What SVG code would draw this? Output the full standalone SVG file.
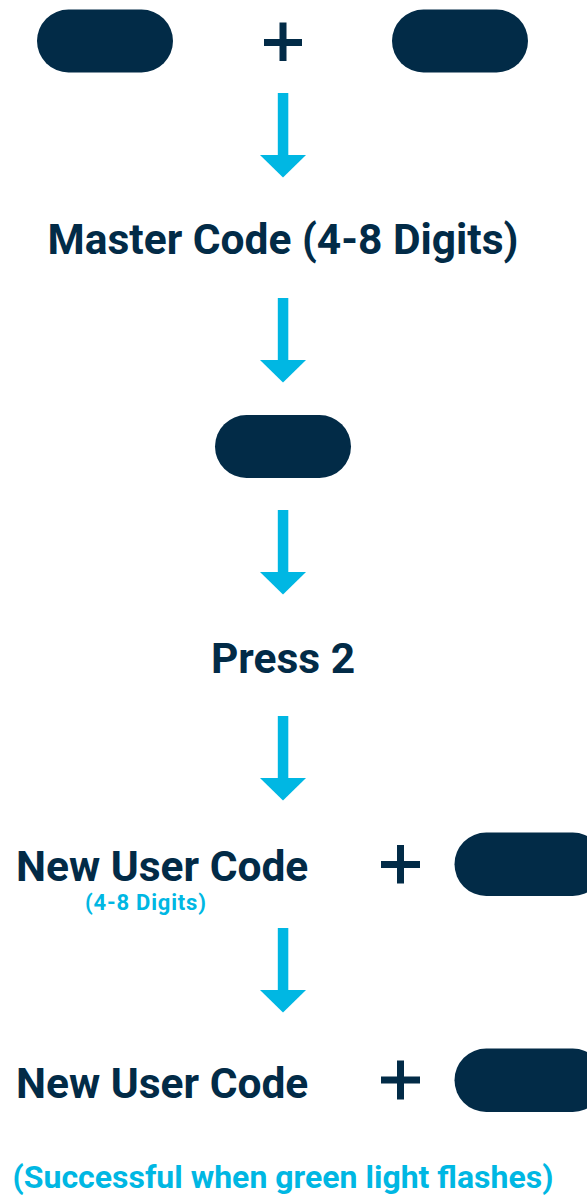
<svg xmlns="http://www.w3.org/2000/svg" width="587" height="1195" viewBox="0 0 587 1195">
  <defs>
    <style>
      .pill { fill: #022b47; }
      .plus { stroke: #022b47; stroke-width: 7; fill: none; }
      .shaft { fill: #00b7e3; }
      .head { fill: #00b7e3; }
      .t { font-family: Roboto, "Liberation Sans", sans-serif; font-weight: 700; fill: #022b47; font-size: 42.5px; }
      .c { font-family: Roboto, "Liberation Sans", sans-serif; font-weight: 700; fill: #00b7e3; }
    </style>
    <g id="arrowShape">
      <rect class="shaft" x="-5.2" y="0" width="10.5" height="63"/>
      <polygon class="head" points="-23,62 23,62 0,84.5"/>
    </g>
  </defs>
  <rect width="587" height="1195" fill="#ffffff"/>

  <g id="connectors">
    <use href="#arrowShape" x="283" y="93"/>
    <use href="#arrowShape" x="283" y="298"/>
    <use href="#arrowShape" x="283" y="510"/>
    <use href="#arrowShape" x="283" y="716"/>
    <use href="#arrowShape" x="283" y="928"/>
  </g>

  <g id="node-top-left-button"><rect class="pill" x="37" y="9.5" width="136" height="63" rx="31.5"/></g>
  <g id="node-top-plus"><path class="plus" d="M264 42.5H302M283 22.5V61"/></g>
  <g id="node-top-right-button"><rect class="pill" x="392" y="9.5" width="136" height="63" rx="31.5"/></g>

  <g id="node-master-code"><text class="t" x="283" y="253.5" text-anchor="middle">Master Code (4-8 Digits)</text></g>

  <g id="node-middle-button"><rect class="pill" x="215" y="415" width="136" height="63" rx="31.5"/></g>

  <g id="node-press-2"><text class="t" x="283" y="672.5" text-anchor="middle">Press 2</text></g>

  <g id="node-new-user-code-1">
    <text class="t" x="16" y="881" font-size="41.7">New User Code</text>
    <text class="c" x="85" y="909.5" font-size="22" letter-spacing="0.8">(4-8 Digits)</text>
  </g>
  <g id="node-plus-1"><path class="plus" d="M381 864.5H420M400.5 845V883.5"/></g>
  <g id="node-button-1"><rect class="pill" x="454.5" y="832.5" width="150" height="63.5" rx="31.75"/></g>

  <g id="node-new-user-code-2"><text class="t" x="16" y="1097.5" font-size="41.7">New User Code</text></g>
  <g id="node-plus-2"><path class="plus" d="M381 1080H420M400.5 1060.5V1099.5"/></g>
  <g id="node-button-2"><rect class="pill" x="454.5" y="1048.5" width="150" height="63.5" rx="31.75"/></g>

  <g id="node-success"><text class="c" x="283" y="1188" text-anchor="middle" font-size="32">(Successful when green light flashes)</text></g>
</svg>
